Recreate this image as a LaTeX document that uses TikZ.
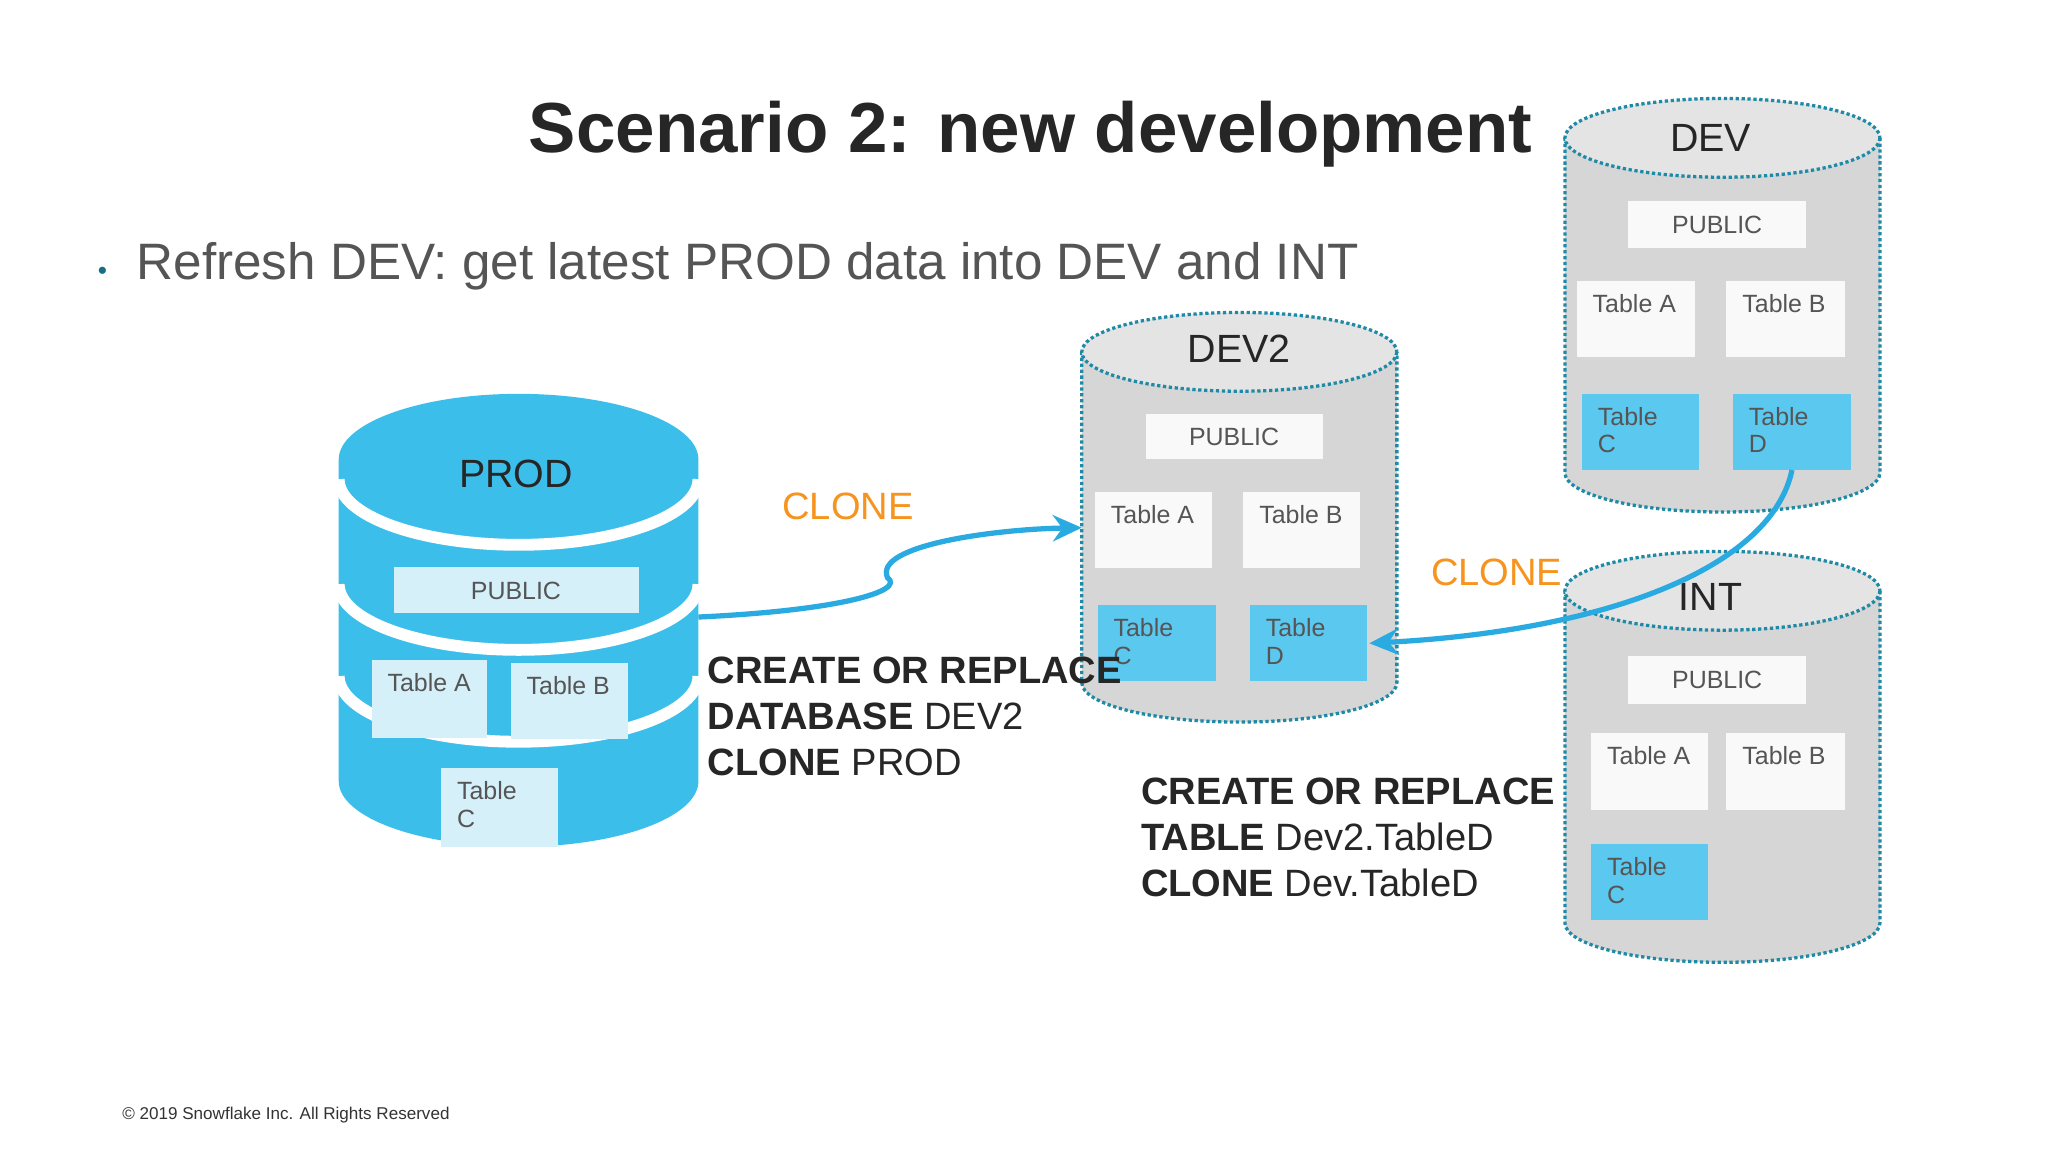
\documentclass[tikz,border=0pt]{standalone}
\usepackage{fontspec}
\setmainfont{Liberation Sans}
\usetikzlibrary{arrows.meta}
\definecolor{pblue}{HTML}{3BBFEA}
\definecolor{plight}{HTML}{D6F0FA}
\definecolor{tblue}{HTML}{5BC8EF}
\definecolor{dotc}{HTML}{1F8AA6}
\definecolor{cyl}{HTML}{D6D6D6}
\definecolor{cyltop}{HTML}{E4E4E4}
\definecolor{txt}{HTML}{555555}
\definecolor{orng}{HTML}{F7941D}
\definecolor{arr}{HTML}{29ABE2}
\tikzset{
  lbl/.style={anchor=north west, text=txt, font=\fontsize{19}{21}\selectfont, align=left, inner sep=0pt},
  cl/.style={text=orng, font=\fontsize{29}{32}\selectfont},
  code/.style={anchor=west, font=\fontsize{29}{35}\selectfont, text=black!85, align=left, inner sep=0pt},
  conn/.style={arr, line width=4pt, -{Stealth[length=22pt,width=20pt]}},
}
\newcommand{\dbcyl}[5]{% x1 x2 ytop ybot name
  \fill[cyl] (#1,#3) -- (#1,#4) arc[start angle=180,end angle=0,x radius={(#2-#1)/2},y radius=30] -- (#2,#3) -- cycle;
  \draw[dotc, line width=2.5pt, dotted] (#1,#3) -- (#1,#4) arc[start angle=180,end angle=0,x radius={(#2-#1)/2},y radius=30] -- (#2,#3);
  \fill[cyltop] ({(#1+#2)/2},#3) ellipse[x radius={(#2-#1)/2},y radius=30];
  \draw[dotc, line width=2.5pt, dotted] ({(#1+#2)/2},#3) ellipse[x radius={(#2-#1)/2},y radius=30];
}
\newcommand{\tb}[7]{% name x1 y1 x2 y2 fill text
  \fill[#6] (#2,#3) rectangle (#4,#5);
  \node[lbl] (#1) at ({#2+12},{#3+10}) {#7};
}
\begin{document}
\begin{tikzpicture}[x=1pt,y=-1pt]
\useasboundingbox (0,0) rectangle (1560,877.5);
\fill[white] (0,0) rectangle (1560,877.5);
\node[font=\bfseries\fontsize{54}{58}\selectfont, text=black!85] (title) at (785,102) {Scenario 2: new development};
\node[text=dotc!80!black, font=\fontsize{20}{20}\selectfont] (bul) at (78,208) {•};
\node[anchor=west, text=txt, font=\fontsize{39}{44}\selectfont, inner sep=0pt] (sub) at (104,203) {Refresh DEV: get latest PROD data into DEV and INT};
% PROD
\fill[pblue] (258,350) -- (258,595) arc[start angle=180,end angle=0,x radius=137,y radius=50] -- (532,350) arc[start angle=0,end angle=-180,x radius=137,y radius=50] -- cycle;
\foreach \yy in {365,445,515}{
  \draw[white, line width=9pt] (258,\yy) arc[start angle=180,end angle=0,x radius=137,y radius=50];
}
\node[font=\fontsize{30}{32}\selectfont, text=black!85] (prodl) at (393,361) {PROD};
\fill[plight] (300,432) rectangle (487,467);
\node[text=txt, font=\fontsize{19}{21}\selectfont] (pp) at (393,450) {PUBLIC};
\tb{pa}{283}{503}{371}{562}{plight}{Table A}
\tb{pb}{389}{505}{478}{563}{plight}{Table B}
\tb{pc}{336}{585}{425}{645}{plight}{Table\\C}
% DEV2
\dbcyl{824}{1064}{268}{520}{dev2}
\node[font=\fontsize{30}{32}\selectfont, text=black!85] (dev2l) at (944,266) {DEV2};
\fill[white!95!gray] (873,315) rectangle (1008,350);
\node[text=txt, font=\fontsize{19}{21}\selectfont] (d2p) at (940,333) {PUBLIC};
\tb{d2a}{834}{375}{923}{433}{white!95!gray}{Table A}
\tb{d2b}{947}{375}{1036}{433}{white!95!gray}{Table B}
\tb{d2c}{836}{461}{926}{519}{tblue}{Table\\C}
\tb{d2d}{952}{461}{1041}{519}{tblue}{Table\\D}
% DEV
\dbcyl{1192}{1432}{105}{360}{dev}
\node[font=\fontsize{30}{32}\selectfont, text=black!85] (devl) at (1303,105) {DEV};
\fill[white!95!gray] (1240,153) rectangle (1376,189);
\node[text=txt, font=\fontsize{19}{21}\selectfont] (dp) at (1308,171) {PUBLIC};
\tb{da}{1201}{214}{1291}{272}{white!95!gray}{Table A}
\tb{db}{1315}{214}{1405}{272}{white!95!gray}{Table B}
\tb{dc}{1205}{300}{1294}{358}{tblue}{Table\\C}
\tb{dd}{1320}{300}{1410}{358}{tblue}{Table\\D}
% INT
\dbcyl{1192}{1432}{450}{703}{int}
\node[font=\fontsize{30}{32}\selectfont, text=black!85] (intl) at (1303,455) {INT};
\fill[white!95!gray] (1240,500) rectangle (1376,536);
\node[text=txt, font=\fontsize{19}{21}\selectfont] (ip) at (1308,518) {PUBLIC};
\tb{ia}{1212}{558}{1301}{617}{white!95!gray}{Table A}
\tb{ib}{1315}{558}{1405}{617}{white!95!gray}{Table B}
\tb{ic}{1212}{643}{1301}{701}{tblue}{Table\\C}
% connectors
\coordinate (s1) at (532,470);
\coordinate (e1) at (824,402);
\draw[conn] (s1) .. controls (640,465) and (690,450) .. (676,440) .. controls (665,415) and (760,403) .. (e1);
\coordinate (s2) at (1365,358);
\coordinate (e2) at (1043,490);
\draw[conn] (s2) .. controls (1350,430) and (1230,480) .. (e2);
\node[cl] (c1) at (646,386) {CLONE};
\node[cl] (c2) at (1140,436) {CLONE};
\node[code] (code1) at (539,546) {\textbf{CREATE OR REPLACE}\\\textbf{DATABASE} DEV2\\\textbf{CLONE} PROD};
\node[code] (code2) at (869,638) {\textbf{CREATE OR REPLACE}\\\textbf{TABLE} Dev2.TableD\\\textbf{CLONE} Dev.TableD};
\node[anchor=west, font=\fontsize{13}{15}\selectfont, text=black!80, inner sep=0pt] (foot) at (93,849) {© 2019 Snowflake Inc. All Rights Reserved};
\end{tikzpicture}
\end{document}
